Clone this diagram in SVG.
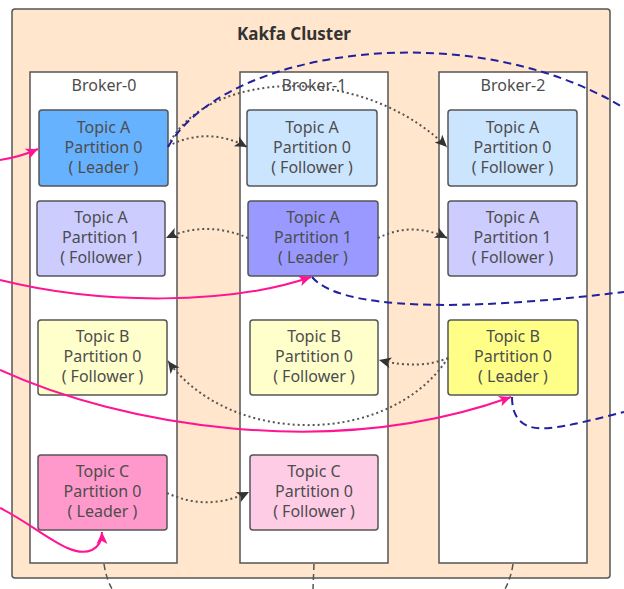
<svg xmlns="http://www.w3.org/2000/svg" width="624" height="589" viewBox="0 0 624 589">
<defs>
<style>
.cluster{fill:#FFE6CC;stroke:#555;stroke-width:1.5}
.broker{fill:#fff;stroke:#555;stroke-width:1.5}
.node rect{stroke:#555;stroke-width:1.5}
text{font-family:"Noto Sans","Open Sans","Liberation Sans",sans-serif;fill:#4d4d4d;font-size:16px;text-anchor:middle}
.title{font-weight:bold;font-size:17px;fill:#333}
.dot{fill:none;stroke:#555;stroke-width:2;stroke-dasharray:2 3}
.blue{fill:none;stroke:#2020A0;stroke-width:2;stroke-dasharray:8 5}
.pink{fill:none;stroke:#FF1493;stroke-width:2}
.gdash{fill:none;stroke:#555;stroke-width:1.5;stroke-dasharray:6 4}
</style>
<marker id="ag" markerUnits="userSpaceOnUse" markerWidth="15" markerHeight="13" refX="13" refY="6.5" orient="auto"><path d="M1,1 L13,6.5 L1,12 L4,6.5 Z" fill="#333"/></marker>
<marker id="ap" markerUnits="userSpaceOnUse" markerWidth="15" markerHeight="13" refX="13" refY="6.5" orient="auto"><path d="M1,1 L13,6.5 L1,12 L4,6.5 Z" fill="#FF1493"/></marker>
</defs>
<g id="cluster">
<rect class="cluster" x="12" y="9" width="598" height="569" rx="3"/>
<text class="title" x="294" y="40">Kakfa Cluster</text>
</g>
<g id="broker-0"><rect class="broker" x="30" y="72" width="147" height="491"/><text x="104" y="91">Broker-0</text></g>
<g id="broker-1"><rect class="broker" x="240" y="72" width="148" height="491"/><text x="314" y="91">Broker-1</text></g>
<g id="broker-2"><rect class="broker" x="439" y="72" width="148" height="491"/><text x="513" y="91">Broker-2</text></g>

<g id="b0-a0" class="node"><rect x="39" y="110" width="129" height="76" rx="3" fill="#66B2FF"/><text x="103.5" y="133">Topic A</text><text x="103.5" y="153">Partition 0</text><text x="103.5" y="173">( Leader )</text></g>
<g id="b1-a0" class="node"><rect x="247" y="110" width="130" height="76" rx="3" fill="#CCE5FF"/><text x="312" y="133">Topic A</text><text x="312" y="153">Partition 0</text><text x="312" y="173">( Follower )</text></g>
<g id="b2-a0" class="node"><rect x="448" y="110" width="129" height="76" rx="3" fill="#CCE5FF"/><text x="512.5" y="133">Topic A</text><text x="512.5" y="153">Partition 0</text><text x="512.5" y="173">( Follower )</text></g>

<g id="b0-a1" class="node"><rect x="37" y="201" width="128" height="75" rx="3" fill="#CCCCFF"/><text x="101" y="223">Topic A</text><text x="101" y="243">Partition 1</text><text x="101" y="263">( Follower )</text></g>
<g id="b1-a1" class="node"><rect x="248" y="201" width="130" height="75" rx="3" fill="#9999FF"/><text x="313" y="223">Topic A</text><text x="313" y="243">Partition 1</text><text x="313" y="263">( Leader )</text></g>
<g id="b2-a1" class="node"><rect x="448" y="201" width="129" height="75" rx="3" fill="#CCCCFF"/><text x="512.5" y="223">Topic A</text><text x="512.5" y="243">Partition 1</text><text x="512.5" y="263">( Follower )</text></g>

<g id="b0-b0" class="node"><rect x="38" y="320" width="129" height="75" rx="3" fill="#FFFFCC"/><text x="102.5" y="342">Topic B</text><text x="102.5" y="362">Partition 0</text><text x="102.5" y="382">( Follower )</text></g>
<g id="b1-b0" class="node"><rect x="250" y="320" width="128" height="75" rx="3" fill="#FFFFCC"/><text x="314" y="342">Topic B</text><text x="314" y="362">Partition 0</text><text x="314" y="382">( Follower )</text></g>
<g id="b2-b0" class="node"><rect x="448" y="320" width="130" height="75" rx="3" fill="#FFFF88"/><text x="513" y="342">Topic B</text><text x="513" y="362">Partition 0</text><text x="513" y="382">( Leader )</text></g>

<g id="b0-c0" class="node"><rect x="38" y="455" width="129" height="75" rx="3" fill="#FF99CC"/><text x="102.5" y="477">Topic C</text><text x="102.5" y="497">Partition 0</text><text x="102.5" y="517">( Leader )</text></g>
<g id="b1-c0" class="node"><rect x="250" y="455" width="128" height="75" rx="3" fill="#FFCCE6"/><text x="314" y="477">Topic C</text><text x="314" y="497">Partition 0</text><text x="314" y="517">( Follower )</text></g>

<g id="connectors">
<path class="dot" d="M168,146 Q208,126 247,147" marker-end="url(#ag)"/>
<path class="dot" d="M168,146 C205,70 360,62 447,147" marker-end="url(#ag)"/>
<path class="dot" d="M248,238 Q206,220 166,238" marker-end="url(#ag)"/>
<path class="dot" d="M378,238 Q412,221 447,238" marker-end="url(#ag)"/>
<path class="dot" d="M448,358 Q420,370 379,360" marker-end="url(#ag)"/>
<path class="dot" d="M448,358 C390,447 230,447 168,361" marker-end="url(#ag)"/>
<path class="dot" d="M167,493 Q208,512 249,492" marker-end="url(#ag)"/>

<path class="blue" d="M168,147 C225,48 470,14 624,108"/>
<path class="blue" d="M312,277 C340,310 460,312 624,292"/>
<path class="blue" d="M512,397 C512,425 530,430 550,428 S600,418 624,412"/>

<path class="pink" d="M0,160 Q20,157 38,149" marker-end="url(#ap)"/>
<path class="pink" d="M0,280 C100,305 230,305 311,277" marker-end="url(#ap)"/>
<path class="pink" d="M0,370 C120,425 330,462 511,397" marker-end="url(#ap)"/>
<path class="pink" d="M0,508 C40,528 70,560 92,550 Q102,545 102,532" marker-end="url(#ap)"/>

<path class="gdash" d="M104,564 Q106,578 112,589"/>
<path class="gdash" d="M314,564 L313,589"/>
<path class="gdash" d="M513,564 Q511,578 505,589"/>
</g>
</svg>
